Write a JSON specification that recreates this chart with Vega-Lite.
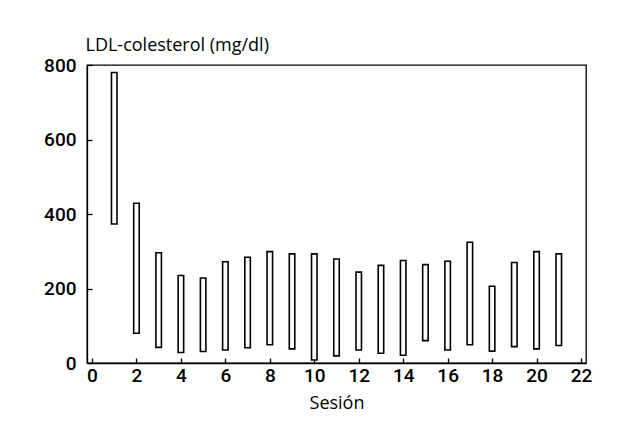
{
  "$schema": "https://vega.github.io/schema/vega-lite/v6.json",
  "width": 499,
  "height": 298,
  "autosize": "none",
  "padding": {"left": 87, "top": 65, "right": 35, "bottom": 65},
  "background": "white",
  "config": {
    "view": {"stroke": "black", "strokeWidth": 1.3},
    "font": "Roboto",
    "axis": {
      "domainColor": "black",
      "tickColor": "black",
      "labelColor": "black",
      "titleColor": "black",
      "grid": false,
      "labelFont": "Roboto",
      "titleFont": "Open Sans",
      "labelFontSize": 19,
      "labelFontWeight": 500,
      "titleFontSize": 18,
      "titleFontWeight": "normal",
      "tickSize": -5,
      "domainWidth": 1.3,
      "tickWidth": 1.3
    }
  },
  "data": {
    "values": [
      {"sesion": 1, "min": 373, "max": 780},
      {"sesion": 2, "min": 80, "max": 429},
      {"sesion": 3, "min": 42, "max": 296},
      {"sesion": 4, "min": 28, "max": 235},
      {"sesion": 5, "min": 31, "max": 228},
      {"sesion": 6, "min": 35, "max": 272},
      {"sesion": 7, "min": 41, "max": 284},
      {"sesion": 8, "min": 49, "max": 299},
      {"sesion": 9, "min": 38, "max": 293},
      {"sesion": 10, "min": 8, "max": 293},
      {"sesion": 11, "min": 19, "max": 279},
      {"sesion": 12, "min": 35, "max": 244},
      {"sesion": 13, "min": 26, "max": 262},
      {"sesion": 14, "min": 21, "max": 275},
      {"sesion": 15, "min": 60, "max": 264},
      {"sesion": 16, "min": 35, "max": 273},
      {"sesion": 17, "min": 49, "max": 324},
      {"sesion": 18, "min": 32, "max": 206},
      {"sesion": 19, "min": 44, "max": 270},
      {"sesion": 20, "min": 38, "max": 299},
      {"sesion": 21, "min": 47, "max": 293}
    ]
  },
  "mark": {"type": "bar", "width": 5.5, "fill": "white", "stroke": "black", "strokeWidth": 1.6},
  "encoding": {
    "x": {
      "field": "sesion",
      "type": "quantitative",
      "scale": {"domain": [0, 22], "nice": false, "zero": false},
      "axis": {
        "values": [0, 2, 4, 6, 8, 10, 12, 14, 16, 18, 20, 22],
        "title": "Sesión",
        "labelPadding": 8,
        "titlePadding": 9,
        "labelFlush": false
      }
    },
    "y": {
      "field": "max",
      "type": "quantitative",
      "scale": {"domain": [0, 800], "nice": false},
      "axis": {
        "values": [0, 200, 400, 600, 800],
        "title": "LDL-colesterol (mg/dl)",
        "titleAngle": 0,
        "titleAlign": "left",
        "titleBaseline": "alphabetic",
        "titleX": -2,
        "titleY": -15,
        "labelPadding": 16,
        "labelFlush": false
      }
    },
    "y2": {"field": "min"}
  }
}
